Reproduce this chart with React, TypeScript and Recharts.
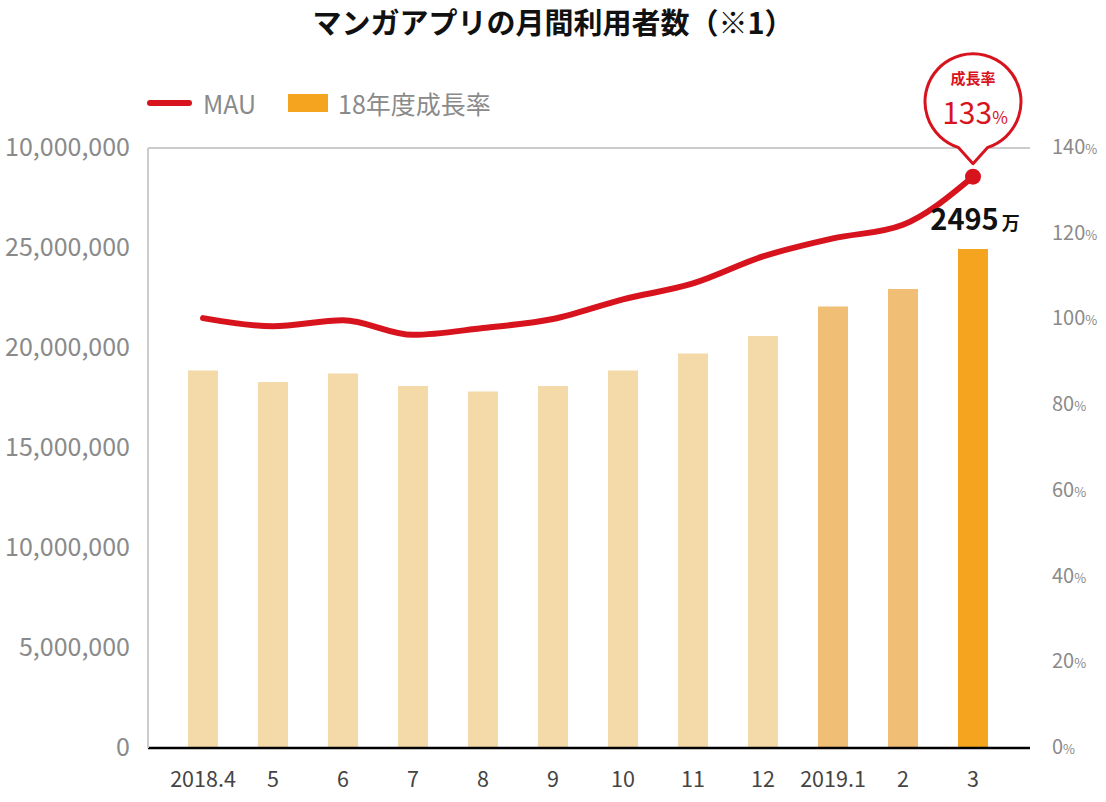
import { ComposedChart, Bar, Line, XAxis, YAxis, CartesianGrid, Cell, LabelList } from 'recharts'

const MONTHS = ['2018.4', '5', '6', '7', '8', '9', '10', '11', '12', '2019.1', '2', '3']
// monthly users (bars, left axis)
const USERS = [18870000, 18300000, 18730000, 18100000, 17820000, 18100000, 18870000, 19730000, 20600000, 22070000, 22950000, 24950000]
// growth rate % (line, right axis)
const RATE = [100.3, 98.4, 99.8, 96.4, 98.0, 100.1, 104.7, 108.4, 114.7, 118.9, 122.1, 133.3]
const LEFT_TICKS = [0, 5000000, 10000000, 15000000, 20000000, 25000000, 30000000]
const LEFT_TICK_LABELS = ['0', '5,000,000', '10,000,000', '15,000,000', '20,000,000', '25,000,000', '10,000,000']
const RIGHT_TICKS = [0, 20, 40, 60, 80, 100, 120, 140]
const BAR_COLORS = ['#F4DAA9', '#F4DAA9', '#F4DAA9', '#F4DAA9', '#F4DAA9', '#F4DAA9', '#F4DAA9', '#F4DAA9', '#F4DAA9', '#F1BE75', '#F1BE75', '#F4A41F']

const RED = '#D7141E'
const ORANGE = '#F4A41F'
const GREY = '#8a8a8a'
const FONT = '"Noto Sans CJK JP", "Noto Sans", sans-serif'

const data = MONTHS.map((m, i) => ({ month: m, users: USERS[i], rate: RATE[i] }))

function LeftTick({ x, y, payload }: any) {
  const i = LEFT_TICKS.indexOf(payload.value)
  return (
    <text x={x - 10} y={y} dy={8} textAnchor="end" fontSize={25} fill={GREY} fontFamily={FONT}>
      {LEFT_TICK_LABELS[i]}
    </text>
  )
}

function RightTick({ x, y, payload }: any) {
  return (
    <text x={x + 14} y={y} dy={6} textAnchor="start" fill={GREY} fontFamily={FONT}>
      <tspan fontSize={20}>{payload.value}</tspan>
      <tspan fontSize={13}>%</tspan>
    </text>
  )
}

function MonthTick({ x, y, payload }: any) {
  return (
    <text x={x} y={y} dy={31} textAnchor="middle" fontSize={21.5} fill="#444" fontFamily={FONT}>
      {payload.value}
    </text>
  )
}

function LastDot({ cx, cy, index }: any) {
  if (index !== RATE.length - 1) return <g key={index} />
  const r = 48
  const ccx = cx
  const ccy = cy - 75
  const s = Math.sin((18 * Math.PI) / 180) * r
  const c = Math.cos((18 * Math.PI) / 180) * r
  const path = `M ${ccx - s} ${ccy + c} A ${r} ${r} 0 1 1 ${ccx + s} ${ccy + c} L ${ccx} ${ccy + 62} Z`
  return (
    <g key={index}>
      <path d={path} fill="#fff" stroke={RED} strokeWidth={3} strokeLinejoin="round" />
      <text x={ccx} y={ccy - 18} textAnchor="middle" fontSize={15} fontWeight={700} fill={RED} fontFamily={FONT}>成長率</text>
      <text x={ccx + 2} y={ccy + 22} textAnchor="middle" fill={RED} fontFamily={FONT}>
        <tspan fontSize={30}>{RATE[index].toFixed(0)}</tspan>
        <tspan fontSize={17}>%</tspan>
      </text>
      <circle cx={cx} cy={cy} r={8} fill={RED} />
    </g>
  )
}

function LastBarLabel({ x, y, width, index }: any) {
  if (index !== USERS.length - 1) return null
  return (
    <text x={x + width / 2 + 2} y={y - 19} textAnchor="middle" fontWeight={700} fill="#111" fontFamily={FONT}>
      <tspan fontSize={29}>{Math.round(USERS[index] / 10000)}</tspan>
      <tspan fontSize={18} dx={3}>万</tspan>
    </text>
  )
}

export default function App() {
  return (
    <div style={{ position: 'absolute', left: 0, top: 0, width: 1106, height: 802, background: '#fff', fontFamily: FONT }}>
      <div style={{ position: 'absolute', left: 0, top: 0, width: 1106, textAlign: 'center', fontSize: 29, fontWeight: 700, lineHeight: '42px', color: '#111' }}>
        マンガアプリの月間利用者数（※1）
      </div>

      {/* legend */}
      <div style={{ position: 'absolute', left: 147, top: 86, height: 34, display: 'flex', alignItems: 'center', fontSize: 25, color: GREY }}>
        <span style={{ display: 'inline-block', width: 45, height: 6, borderRadius: 3, background: RED, marginRight: 11 }} />
        <span style={{ marginRight: 32 }}>MAU</span>
        <span style={{ display: 'inline-block', width: 40, height: 18, background: ORANGE, marginRight: 10 }} />
        <span>18年度成長率</span>
      </div>

      <ComposedChart width={1106} height={802} data={data} margin={{ top: 148, right: 0, bottom: 0, left: 0 }}>
        <CartesianGrid horizontal vertical={false} stroke="#cccccc" strokeWidth={2} />
        <XAxis dataKey="month" padding={{ left: 20, right: 22 }} height={54} tickLine={false} axisLine={{ stroke: '#000', strokeWidth: 2.5 }} tick={<MonthTick />} interval={0} />
        <YAxis yAxisId="left" width={148} domain={[0, 30000000]} ticks={LEFT_TICKS} tickLine={false} axisLine={{ stroke: '#cccccc', strokeWidth: 2 }} tick={<LeftTick />} interval={0} />
        <YAxis yAxisId="right" orientation="right" width={76} domain={[0, 140]} ticks={RIGHT_TICKS} tickLine={false} axisLine={false} tick={<RightTick />} interval={0} />
        <Bar yAxisId="left" dataKey="users" barSize={30} isAnimationActive={false}>
          {USERS.map((_, i) => <Cell key={i} fill={BAR_COLORS[i]} />)}
          <LabelList dataKey="users" content={<LastBarLabel />} />
        </Bar>
        <Line yAxisId="right" type="monotone" dataKey="rate" stroke={RED} strokeWidth={6} strokeLinecap="round" dot={<LastDot />} activeDot={false} isAnimationActive={false} />
      </ComposedChart>
    </div>
  )
}
